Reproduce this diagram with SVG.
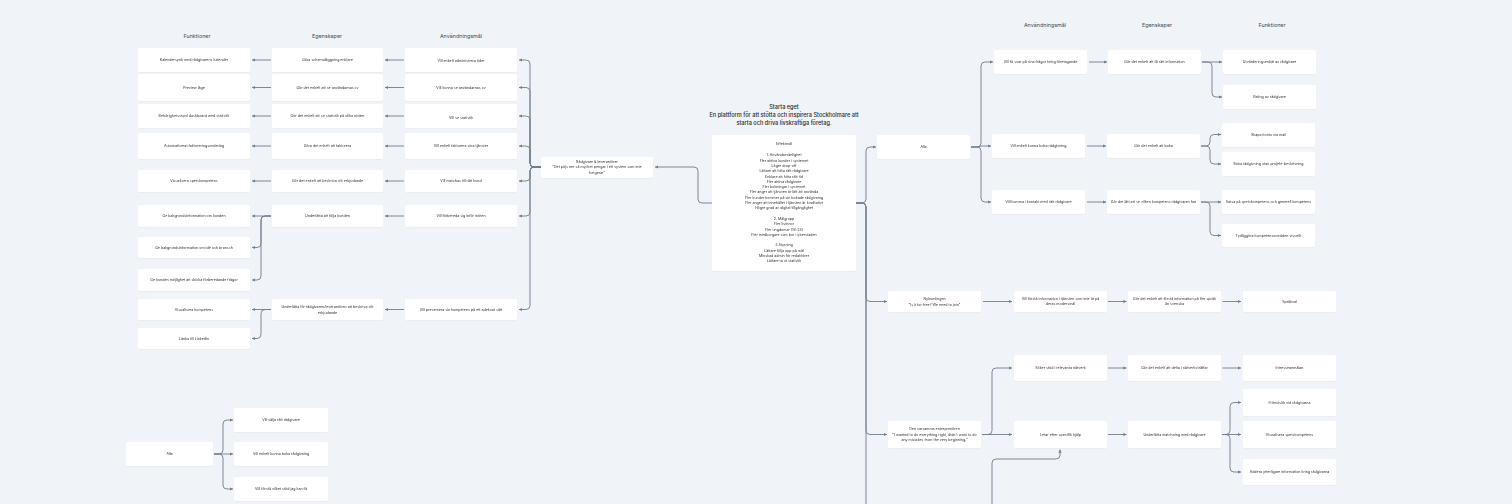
<svg xmlns="http://www.w3.org/2000/svg" width="1512" height="504" viewBox="0 0 1512 504">
<style>
.bg{fill:#f0f3f7}
.n rect{fill:#ffffff}
.n text,.box text{font-family:Inter,"Liberation Sans",sans-serif;font-size:3.6px;fill:#2e2e2e;text-anchor:middle}
.h{font-family:Inter,"Liberation Sans",sans-serif;font-size:5.4px;fill:#4a4a4a;text-anchor:middle}
.t{font-family:Inter,"Liberation Sans",sans-serif;font-size:5.6px;fill:#2a2a2a;text-anchor:middle;font-weight:500}
.c path{fill:none;stroke:#6f7d8e;stroke-width:0.9;marker-end:url(#a)}
</style>
<defs>
<marker id="a" viewBox="0 0 4 4" refX="4" refY="2" markerWidth="3.2" markerHeight="3.2" markerUnits="userSpaceOnUse" orient="auto"><path d="M0,0 L4,2 L0,4 z" fill="#6f7d8e"/></marker>
<filter id="s" x="-5%" y="-10%" width="110%" height="130%"><feDropShadow dx="0" dy="0.5" stdDeviation="0.6" flood-color="#000" flood-opacity="0.05"/></filter>
</defs>
<rect class="bg" width="1512" height="504"/>

<text class="h" x="197" y="37.5">Funktioner</text>
<text class="h" x="327" y="37.5">Egenskaper</text>
<text class="h" x="461" y="37.5">Användningsmål</text>
<text class="h" x="1045" y="27">Användningsmål</text>
<text class="h" x="1157" y="27">Egenskaper</text>
<text class="h" x="1272" y="27">Funktioner</text>

<text class="t" x="784" y="109">Starta eget</text>
<text class="t" x="784" y="117">En plattform för att stötta och inspirera Stockholmare att</text>
<text class="t" x="784" y="125">starta och driva livskraftiga företag.</text>

<g filter="url(#s)">
<!-- left Funktioner -->
<g id="lf1" class="n"><rect x="138" y="48" width="112" height="24" rx="2"/><text x="194" y="61.3">Kalendersynk med rådgivarens kalender</text></g>
<g id="lf2" class="n"><rect x="138" y="74" width="112" height="27" rx="2"/><text x="194" y="88.8">Preview läge</text></g>
<g id="lf3" class="n"><rect x="138" y="104" width="112" height="24" rx="2"/><text x="194" y="117.3">Behörighetsstyrd dashboard med statistik</text></g>
<g id="lf4" class="n"><rect x="138" y="133" width="112" height="26" rx="2"/><text x="194" y="147.3">Automatiserat faktureringsunderlag</text></g>
<g id="lf5" class="n"><rect x="138" y="170" width="112" height="22" rx="2"/><text x="194" y="182.3">Visualisera spetskompetens</text></g>
<g id="lf6" class="n"><rect x="138" y="205" width="112" height="22" rx="2"/><text x="194" y="217.3">Ge bakgrundsinformation om kunden</text></g>
<g id="lf7" class="n"><rect x="138" y="237" width="112" height="21" rx="2"/><text x="194" y="248.8">Ge bakgrundsinformation om idé och bransch</text></g>
<g id="lf8" class="n"><rect x="138" y="269" width="112" height="22" rx="2"/><text x="194" y="281.3">Ge kunden möjlighet att skicka förberedande frågor</text></g>
<g id="lf9" class="n"><rect x="138" y="299" width="112" height="21" rx="2"/><text x="194" y="310.8">Visualisera kompetens</text></g>
<g id="lf10" class="n"><rect x="138" y="328" width="112" height="21" rx="2"/><text x="194" y="339.8">Länka till LinkedIn</text></g>

<!-- left Egenskaper -->
<g id="le1" class="n"><rect x="272" y="48" width="111" height="24" rx="2"/><text x="327.5" y="61.3">Göra schemaläggning enklare</text></g>
<g id="le2" class="n"><rect x="272" y="74" width="111" height="27" rx="2"/><text x="327.5" y="88.8">Gör det enkelt att se användarnas cv</text></g>
<g id="le3" class="n"><rect x="272" y="104" width="111" height="24" rx="2"/><text x="327.5" y="117.3">Gör det enkelt att se statistik på olika nivåer</text></g>
<g id="le4" class="n"><rect x="272" y="133" width="111" height="26" rx="2"/><text x="327.5" y="147.3">Göra det enkelt att fakturera</text></g>
<g id="le5" class="n"><rect x="272" y="170" width="111" height="22" rx="2"/><text x="327.5" y="182.3">Gör det enkelt att beskriva sitt erbjudande</text></g>
<g id="le6" class="n"><rect x="272" y="205" width="111" height="22" rx="2"/><text x="327.5" y="217.3">Underlätta att följa kunden</text></g>
<g id="le7" class="n"><rect x="272" y="299" width="111" height="21" rx="2"/><text x="327.5" y="308.1">Underlätta för rådgivaren/leverantören att beskriva sitt</text><text x="327.5" y="313.5">erbjudande</text></g>

<!-- left Användningsmål -->
<g id="la1" class="n"><rect x="405" y="48" width="112" height="24" rx="2"/><text x="461" y="62.3">Vill enkelt administrera tider</text></g>
<g id="la2" class="n"><rect x="405" y="74" width="112" height="27" rx="2"/><text x="461" y="88.8">Vill kunna se användarnas cv</text></g>
<g id="la3" class="n"><rect x="405" y="104" width="112" height="24" rx="2"/><text x="461" y="119.3">Vill se statistik</text></g>
<g id="la4" class="n"><rect x="405" y="133" width="112" height="26" rx="2"/><text x="461" y="147.3">Vill enkelt fakturera sina tjänster</text></g>
<g id="la5" class="n"><rect x="405" y="170" width="112" height="22" rx="2"/><text x="461" y="182.3">Vill matchas till rätt kund</text></g>
<g id="la6" class="n"><rect x="405" y="205" width="112" height="22" rx="2"/><text x="461" y="217.3">Vill förbereda sig inför möten</text></g>
<g id="la7" class="n"><rect x="405" y="299" width="112" height="21" rx="2"/><text x="461" y="310.8">Vill presentera sin kompetens på ett adekvat sätt</text></g>

<g id="radgivare" class="n"><rect x="541" y="157" width="112" height="21" rx="2"/><text x="597" y="162.7">Rådgivare &amp; leverantörer</text><text x="597" y="168.1">"Det pöjs ner så mycket pengar i ett system som inte</text><text x="597" y="173.5">fungerar"</text></g>

<!-- center -->
<g id="effektmal" class="box">
<rect x="712" y="135" width="144" height="136" rx="2" fill="#ffffff"/>
<text x="784" y="145.3">Effektmål</text>
<text x="784" y="156.3">1. Användarvänlighet</text>
<text x="784" y="161.6">Fler aktiva kunder i systemet</text>
<text x="784" y="166.9">Lägre drop-off</text>
<text x="784" y="172.2">Lättare att hitta rätt rådgivare</text>
<text x="784" y="177.5">Enklare att hitta rätt tid</text>
<text x="784" y="182.8">Fler aktiva rådgivare</text>
<text x="784" y="188.1">Fler bokningar i systemet</text>
<text x="784" y="193.4">Fler anger att tjänsten är lätt att använda</text>
<text x="784" y="198.7">Fler kunder kommer på sin bokade rådgivning</text>
<text x="784" y="204">Fler anger att innehållet i tjänsten är kvalitativt</text>
<text x="784" y="209.3">Högre grad av digital tillgänglighet</text>
<text x="784" y="219.9">2. Målgrupp</text>
<text x="784" y="225.2">Fler kvinnor</text>
<text x="784" y="230.5">Fler ungdomar (18-25)</text>
<text x="784" y="235.8">Fler medborgare som bor i ytterstaden</text>
<text x="784" y="246.4">3.Styrning</text>
<text x="784" y="251.7">Lättare följa upp på mål</text>
<text x="784" y="257">Minskad admin för redaktörer</text>
<text x="784" y="262.3">Lättare ta ut statistik</text>
</g>

<!-- right -->
<g id="ralla" class="n"><rect x="877" y="135" width="93" height="24" rx="2"/><text x="923.5" y="148.3">Alla</text></g>
<g id="ra1" class="n"><rect x="994" y="50" width="93" height="24" rx="2"/><text x="1040.5" y="63.3">Vill få svar på sina frågor kring företagande</text></g>
<g id="ra2" class="n"><rect x="992" y="134" width="93" height="24" rx="2"/><text x="1038.5" y="147.3">Vill enkelt kunna boka rådgivning</text></g>
<g id="ra3" class="n"><rect x="992" y="190" width="93" height="24" rx="2"/><text x="1038.5" y="203.3">Vill komma i kontakt med rätt rådgivare</text></g>
<g id="re1" class="n"><rect x="1108" y="50" width="93" height="24" rx="2"/><text x="1154.5" y="63.3">Gör det enkelt att få rätt information</text></g>
<g id="re2" class="n"><rect x="1107" y="134" width="93" height="24" rx="2"/><text x="1153.5" y="147.3">Gör det enkelt att boka</text></g>
<g id="re3" class="n"><rect x="1107" y="190" width="93" height="24" rx="2"/><text x="1153.5" y="203.3">Gör det lätt att se vilken kompetens rådgivaren har</text></g>
<g id="rf1" class="n"><rect x="1223" y="50" width="93" height="24" rx="2"/><text x="1269.5" y="63.3">Utvärderingsenkät av rådgivare</text></g>
<g id="rf2" class="n"><rect x="1223" y="85" width="93" height="24" rx="2"/><text x="1269.5" y="98.3">Rating av rådgivare</text></g>
<g id="rf3" class="n"><rect x="1222" y="123" width="93" height="24" rx="2"/><text x="1268.5" y="135.8">Skapa konto via mail</text></g>
<g id="rf4" class="n"><rect x="1222" y="152" width="93" height="24" rx="2"/><text x="1268.5" y="165.3">Boka rådgivning utan projekt-beskrivning</text></g>
<g id="rf5" class="n"><rect x="1222" y="190" width="93" height="24" rx="2"/><text x="1268.5" y="203.3">Satsa på spetskompetens och generell kompetens</text></g>
<g id="rf6" class="n"><rect x="1222" y="224" width="93" height="23" rx="2"/><text x="1268.5" y="236.8">Tydliggöra kompetensområden visuellt</text></g>

<g id="nykom" class="n"><rect x="888" y="291" width="93" height="21" rx="2"/><text x="934.5" y="300.3">Nykomlingen</text><text x="934.5" y="305.7">"Is it for free? We need to join"</text></g>
<g id="n2" class="n"><rect x="1014" y="291" width="93" height="21" rx="2"/><text x="1060.5" y="299.8">Vill förstå information i tjänsten som inte är på</text><text x="1060.5" y="305.4">deras modersmål</text></g>
<g id="n3" class="n"><rect x="1128" y="291" width="93" height="21" rx="2"/><text x="1174.5" y="299.8">Gör det enkelt att förstå information på fler språk</text><text x="1174.5" y="305.4">än svenska</text></g>
<g id="n4" class="n"><rect x="1243" y="291" width="93" height="21" rx="2"/><text x="1289.5" y="302.8">Språkval</text></g>

<g id="varsam" class="n"><rect x="888" y="421" width="93" height="27" rx="2"/><text x="934.5" y="430.2">Den varsamma entreprenören</text><text x="934.5" y="435.7">"I wanted to do everything right, didn't want to do</text><text x="934.5" y="441.2">any mistakes from the very beginning."</text></g>
<g id="s1" class="n"><rect x="1014" y="355" width="93" height="26" rx="2"/><text x="1060.5" y="369.3">Söker stöd i relevanta nätverk</text></g>
<g id="s2" class="n"><rect x="1014" y="421" width="93" height="27" rx="2"/><text x="1060.5" y="435.8">Letar efter specifik hjälp</text></g>
<g id="t1" class="n"><rect x="1128" y="355" width="93" height="26" rx="2"/><text x="1174.5" y="369.3">Gör det enkelt att delta i nätverksträffar</text></g>
<g id="t2" class="n"><rect x="1128" y="421" width="93" height="27" rx="2"/><text x="1174.5" y="435.8">Underlätta matchning med rådgivare</text></g>
<g id="u1" class="n"><rect x="1243" y="355" width="93" height="26" rx="2"/><text x="1289.5" y="369.3">Intresseanmälan</text></g>
<g id="u2" class="n"><rect x="1243" y="389" width="93" height="27" rx="2"/><text x="1289.5" y="403.8">Fritextsök vid rådgivarna</text></g>
<g id="u3" class="n"><rect x="1243" y="421" width="93" height="27" rx="2"/><text x="1289.5" y="435.8">Visualisera spetskompetens</text></g>
<g id="u4" class="n"><rect x="1243" y="459" width="93" height="26" rx="2"/><text x="1289.5" y="473.3">Addera ytterligare information kring rådgivarna</text></g>

<!-- bottom left -->
<g id="balla" class="n"><rect x="126" y="442" width="87" height="24" rx="2"/><text x="169.5" y="455.3">Alla</text></g>
<g id="b1" class="n"><rect x="234" y="408" width="94" height="24" rx="2"/><text x="281" y="421.3">Vill välja rätt rådgivare</text></g>
<g id="b2" class="n"><rect x="234" y="442" width="94" height="24" rx="2"/><text x="281" y="455.3">Vill enkelt kunna boka rådgivning</text></g>
<g id="b3" class="n"><rect x="234" y="477" width="94" height="24" rx="2"/><text x="281" y="490.3">Vill förstå vilket stöd jag kan få</text></g>
</g>

<g id="connectors" class="c">
<!-- left: användning -> egenskaper -->
<path d="M404 60 H385"/>
<path d="M404 87.5 H385"/>
<path d="M404 116 H385"/>
<path d="M404 146 H385"/>
<path d="M404 181 H385"/>
<path d="M404 216 H385"/>
<path d="M404 309.5 H385"/>
<!-- egenskaper -> funktioner -->
<path d="M271 60 H252"/>
<path d="M271 87.5 H252"/>
<path d="M271 116 H252"/>
<path d="M271 146 H252"/>
<path d="M271 181 H252"/>
<path d="M271 216 H252"/>
<path d="M271 216 H265 Q261 216 261 220 V243.5 Q261 247.5 257 247.5 H252"/>
<path d="M271 216 H265 Q261 216 261 220 V276 Q261 280 257 280 H252"/>
<path d="M271 309.5 H252"/>
<path d="M271 309.5 H265 Q261 309.5 261 313.5 V334.5 Q261 338.5 257 338.5 H252"/>
<!-- rådgivare -> användning -->
<path d="M541 167 H534 Q530 167 530 163 V64 Q530 60 526 60 H519"/>
<path d="M541 167 H534 Q530 167 530 163 V91.5 Q530 87.5 526 87.5 H519"/>
<path d="M541 167 H534 Q530 167 530 163 V120 Q530 116 526 116 H519"/>
<path d="M541 167 H534 Q530 167 530 163 V150 Q530 146 526 146 H519"/>
<path d="M541 167 H534 Q530 167 530 171 V177 Q530 181 526 181 H519"/>
<path d="M541 167 H534 Q530 167 530 171 V212 Q530 216 526 216 H519"/>
<path d="M541 167 H534 Q530 167 530 171 V305.5 Q530 309.5 526 309.5 H519"/>
<!-- center -> rådgivare -->
<path d="M712 203 H702 Q698 203 698 199 V171 Q698 167 694 167 H655"/>
<!-- center -> right -->
<path d="M856 203 H862 Q866 203 866 199 V151 Q866 147 870 147 H876"/>
<path d="M856 203 H862 Q866 203 866 207 V297.5 Q866 301.5 870 301.5 H887"/>
<path d="M856 203 H862 Q866 203 866 207 V430.5 Q866 434.5 870 434.5 H887"/>
<path d="M856 203 H862 Q866 203 866 207 V530" style="marker-end:none"/>
<!-- alla -> användning -->
<path d="M971 147 H977 Q981 147 981 143 V66 Q981 62 985 62 H993"/>
<path d="M971 147 H977 Q981 147 981 146 H991"/>
<path d="M971 147 H977 Q981 147 981 151 V198 Q981 202 985 202 H991"/>
<!-- användning -> egenskaper right -->
<path d="M1089 62 H1107"/>
<path d="M1087 146 H1106"/>
<path d="M1087 202 H1106"/>
<!-- egenskaper -> funktioner right -->
<path d="M1202 62 H1222"/>
<path d="M1202 62 H1208 Q1212 62 1212 66 V93 Q1212 97 1216 97 H1222"/>
<path d="M1201 146 H1206 Q1210 146 1210 142 V138.5 Q1210 134.5 1214 134.5 H1221"/>
<path d="M1201 146 H1206 Q1210 146 1210 150 V160 Q1210 164 1214 164 H1221"/>
<path d="M1201 202 H1221"/>
<path d="M1201 202 H1206 Q1210 202 1210 206 V231.5 Q1210 235.5 1214 235.5 H1221"/>
<!-- nykomling row -->
<path d="M983 301.5 H1012"/>
<path d="M1108 301.5 H1126.5"/>
<path d="M1222.5 301.5 H1241"/>
<!-- varsam -->
<path d="M982 434.5 H988 Q992 434.5 992 430.5 V372 Q992 368 996 368 H1012"/>
<path d="M982 434.5 H1012"/>
<path d="M1108 368 H1126.5"/>
<path d="M1222.5 368 H1241"/>
<path d="M1108 434.5 H1126.5"/>
<path d="M1222 434.5 H1226 Q1230 434.5 1230 430.5 V406.5 Q1230 402.5 1234 402.5 H1241"/>
<path d="M1222 434.5 H1241"/>
<path d="M1222 434.5 H1226 Q1230 434.5 1230 438.5 V468 Q1230 472 1234 472 H1241"/>
<path d="M992 530 V463 Q992 459 996 459 H1056 Q1060 459 1060 455 V449.5"/>
<!-- bottom left -->
<path d="M214 454 H219 Q223 454 223 450 V424 Q223 420 227 420 H233"/>
<path d="M214 454 H233"/>
<path d="M214 454 H219 Q223 454 223 458 V485 Q223 489 227 489 H233"/>
</g>
</svg>
